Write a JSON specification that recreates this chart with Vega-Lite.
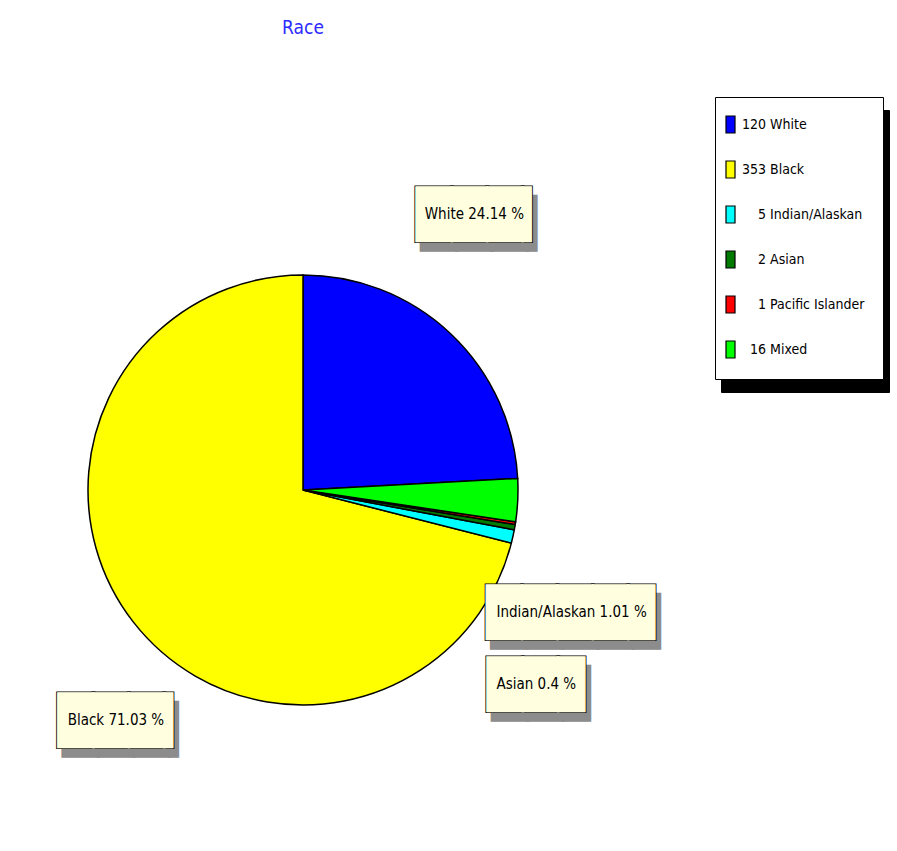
{
  "$schema": "https://vega.github.io/schema/vega-lite/v6.json",
  "width": 576,
  "height": 722,
  "autosize": {"type": "none"},
  "padding": {"left": 15, "top": 129, "right": 306, "bottom": 0},
  "background": "white",
  "title": {"text": "Race", "anchor": "middle", "frame": "group", "offset": 59, "fontSize": 19, "font": "DejaVu Sans Condensed, Liberation Sans Narrow, sans-serif", "fontWeight": "normal", "color": "#2b2bff"},
  "data": {"values": [
    {"race": "White", "legend": "120 White", "count": 120, "slice": 1, "label": "White 24.14 %"},
    {"race": "Black", "legend": "353 Black", "count": 353, "slice": 6, "label": "Black 71.03 %"},
    {"race": "Indian/Alaskan", "legend": "\u200b\u2007\u20075 Indian/Alaskan", "count": 5, "slice": 5, "label": "Indian/Alaskan 1.01 %"},
    {"race": "Asian", "legend": "\u200b\u2007\u20072 Asian", "count": 2, "slice": 4, "label": "Asian 0.4 %"},
    {"race": "Pacific Islander", "legend": "\u200b\u2007\u20071 Pacific Islander", "count": 1, "slice": 3, "label": "Pacific Islander 0.2 %"},
    {"race": "Mixed", "legend": "\u200b\u200716 Mixed", "count": 16, "slice": 2, "label": "Mixed 3.22 %"}
  ]},
  "encoding": {
    "theta": {"field": "count", "type": "quantitative", "stack": true},
    "order": {"field": "slice", "type": "quantitative"}
  },
  "layer": [
    {
      "mark": {"type": "arc", "outerRadius": 215, "strokeWidth": 1.5},
      "encoding": {
        "color": {
          "field": "legend", "type": "nominal",
          "scale": {
            "domain": ["120 White", "353 Black", "\u200b\u2007\u20075 Indian/Alaskan", "\u200b\u2007\u20072 Asian", "\u200b\u2007\u20071 Pacific Islander", "\u200b\u200716 Mixed"],
            "range": ["#0000ff", "#ffff00", "#00ffff", "#007a00", "#ff0000", "#00ff00"]
          },
          "legend": {
            "orient": "none", "legendX": 700, "legendY": -32, "title": null, "zindex": 1,
            "padding": 18, "fillColor": "white", "strokeColor": "black",
            "symbolType": "M-0.53,-1L0.53,-1L0.53,1L-0.53,1Z",
            "symbolSize": 289, "symbolOpacity": 1, "symbolOffset": -12,
            "symbolStrokeColor": "black", "symbolStrokeWidth": 1.2,
            "labelOffset": 2, "labelFont": "DejaVu Sans Condensed, Liberation Sans Narrow, sans-serif",
            "labelFontSize": 14, "labelColor": "black", "labelLimit": 300, "rowPadding": 22,
            "encode": {"symbols": {"update": {"stroke": {"value": "black"}, "strokeWidth": {"value": 1.2}}}}
          }
        },
        "stroke": {
          "field": "legend", "type": "nominal",
          "scale": {"range": ["#000000"]},
          "legend": {
            "orient": "none", "legendX": 706, "legendY": -19, "title": null, "zindex": 0,
            "padding": 18, "fillColor": "black", "strokeColor": "black",
            "symbolType": "M-0.53,-1L0.53,-1L0.53,1L-0.53,1Z",
            "symbolSize": 289, "symbolOpacity": 1, "symbolOffset": -12, "symbolFillColor": "black",
            "labelOffset": 2, "labelFont": "DejaVu Sans Condensed, Liberation Sans Narrow, sans-serif",
            "labelFontSize": 14, "labelColor": "black", "labelLimit": 300, "rowPadding": 22
          }
        }
      }
    },
    {"mark": {"type": "text", "radius": 300, "dx": -88, "dy": -47, "font": "DejaVu Sans", "fontSize": 46, "fill": "#8c8c8c", "stroke": "#8c8c8c", "strokeWidth": 2.5, "align": "left", "baseline": "middle"},
     "encoding": {"text": {"condition": {"test": "datum.race === 'White'", "value": "███▎"}, "value": ""}}},
    {"mark": {"type": "text", "radius": 300, "dx": -93, "dy": -56, "font": "DejaVu Sans", "fontSize": 46, "fill": "black", "stroke": "black", "strokeWidth": 3, "align": "left", "baseline": "middle"},
     "encoding": {"text": {"condition": {"test": "datum.race === 'White'", "value": "███▎"}, "value": ""}}},
    {"mark": {"type": "text", "radius": 300, "dx": -93, "dy": -56, "font": "DejaVu Sans", "fontSize": 46, "fill": "#ffffe0", "stroke": "#ffffe0", "strokeWidth": 1.2, "align": "left", "baseline": "middle"},
     "encoding": {"text": {"condition": {"test": "datum.race === 'White'", "value": "███▎"}, "value": ""}}},
    {"mark": {"type": "text", "radius": 300, "dx": -35, "dy": -58, "font": "DejaVu Sans Condensed, Liberation Sans Narrow, sans-serif", "fontSize": 15, "fill": "black", "align": "center", "baseline": "middle"},
     "encoding": {"text": {"condition": {"test": "datum.race === 'White'", "field": "label"}, "value": ""}}},

    {"mark": {"type": "text", "radius": 280, "dx": -19, "dy": 69, "font": "DejaVu Sans", "fontSize": 46, "fill": "#8c8c8c", "stroke": "#8c8c8c", "strokeWidth": 2.5, "align": "left", "baseline": "middle"},
     "encoding": {"text": {"condition": {"test": "datum.race === 'Black'", "value": "███▎"}, "value": ""}}},
    {"mark": {"type": "text", "radius": 280, "dx": -24, "dy": 60, "font": "DejaVu Sans", "fontSize": 46, "fill": "black", "stroke": "black", "strokeWidth": 3, "align": "left", "baseline": "middle"},
     "encoding": {"text": {"condition": {"test": "datum.race === 'Black'", "value": "███▎"}, "value": ""}}},
    {"mark": {"type": "text", "radius": 280, "dx": -24, "dy": 60, "font": "DejaVu Sans", "fontSize": 46, "fill": "#ffffe0", "stroke": "#ffffe0", "strokeWidth": 1.2, "align": "left", "baseline": "middle"},
     "encoding": {"text": {"condition": {"test": "datum.race === 'Black'", "value": "███▎"}, "value": ""}}},
    {"mark": {"type": "text", "radius": 280, "dx": 34, "dy": 58, "font": "DejaVu Sans Condensed, Liberation Sans Narrow, sans-serif", "fontSize": 15, "fill": "black", "align": "center", "baseline": "middle"},
     "encoding": {"text": {"condition": {"test": "datum.race === 'Black'", "field": "label"}, "value": ""}}},

    {"mark": {"type": "text", "radius": 270, "dx": -75, "dy": 75, "font": "DejaVu Sans", "fontSize": 46, "fill": "#8c8c8c", "stroke": "#8c8c8c", "strokeWidth": 2.5, "align": "left", "baseline": "middle"},
     "encoding": {"text": {"condition": {"test": "datum.race === 'Indian/Alaskan'", "value": "████▊"}, "value": ""}}},
    {"mark": {"type": "text", "radius": 270, "dx": -80, "dy": 66, "font": "DejaVu Sans", "fontSize": 46, "fill": "black", "stroke": "black", "strokeWidth": 3, "align": "left", "baseline": "middle"},
     "encoding": {"text": {"condition": {"test": "datum.race === 'Indian/Alaskan'", "value": "████▊"}, "value": ""}}},
    {"mark": {"type": "text", "radius": 270, "dx": -80, "dy": 66, "font": "DejaVu Sans", "fontSize": 46, "fill": "#ffffe0", "stroke": "#ffffe0", "strokeWidth": 1.2, "align": "left", "baseline": "middle"},
     "encoding": {"text": {"condition": {"test": "datum.race === 'Indian/Alaskan'", "value": "████▊"}, "value": ""}}},
    {"mark": {"type": "text", "radius": 270, "dx": 5, "dy": 64, "font": "DejaVu Sans Condensed, Liberation Sans Narrow, sans-serif", "fontSize": 15, "fill": "black", "align": "center", "baseline": "middle"},
     "encoding": {"text": {"condition": {"test": "datum.race === 'Indian/Alaskan'", "field": "label"}, "value": ""}}},

    {"mark": {"type": "text", "radius": 245, "dx": -52, "dy": 163, "font": "DejaVu Sans", "fontSize": 46, "fill": "#8c8c8c", "stroke": "#8c8c8c", "strokeWidth": 2.5, "align": "left", "baseline": "middle"},
     "encoding": {"text": {"condition": {"test": "datum.race === 'Asian'", "value": "██▊"}, "value": ""}}},
    {"mark": {"type": "text", "radius": 245, "dx": -57, "dy": 154, "font": "DejaVu Sans", "fontSize": 46, "fill": "black", "stroke": "black", "strokeWidth": 3, "align": "left", "baseline": "middle"},
     "encoding": {"text": {"condition": {"test": "datum.race === 'Asian'", "value": "██▊"}, "value": ""}}},
    {"mark": {"type": "text", "radius": 245, "dx": -57, "dy": 154, "font": "DejaVu Sans", "fontSize": 46, "fill": "#ffffe0", "stroke": "#ffffe0", "strokeWidth": 1.2, "align": "left", "baseline": "middle"},
     "encoding": {"text": {"condition": {"test": "datum.race === 'Asian'", "value": "██▊"}, "value": ""}}},
    {"mark": {"type": "text", "radius": 245, "dx": -8, "dy": 152, "font": "DejaVu Sans Condensed, Liberation Sans Narrow, sans-serif", "fontSize": 15, "fill": "black", "align": "center", "baseline": "middle"},
     "encoding": {"text": {"condition": {"test": "datum.race === 'Asian'", "field": "label"}, "value": ""}}}
  ],
  "config": {"view": {"stroke": null}}
}
